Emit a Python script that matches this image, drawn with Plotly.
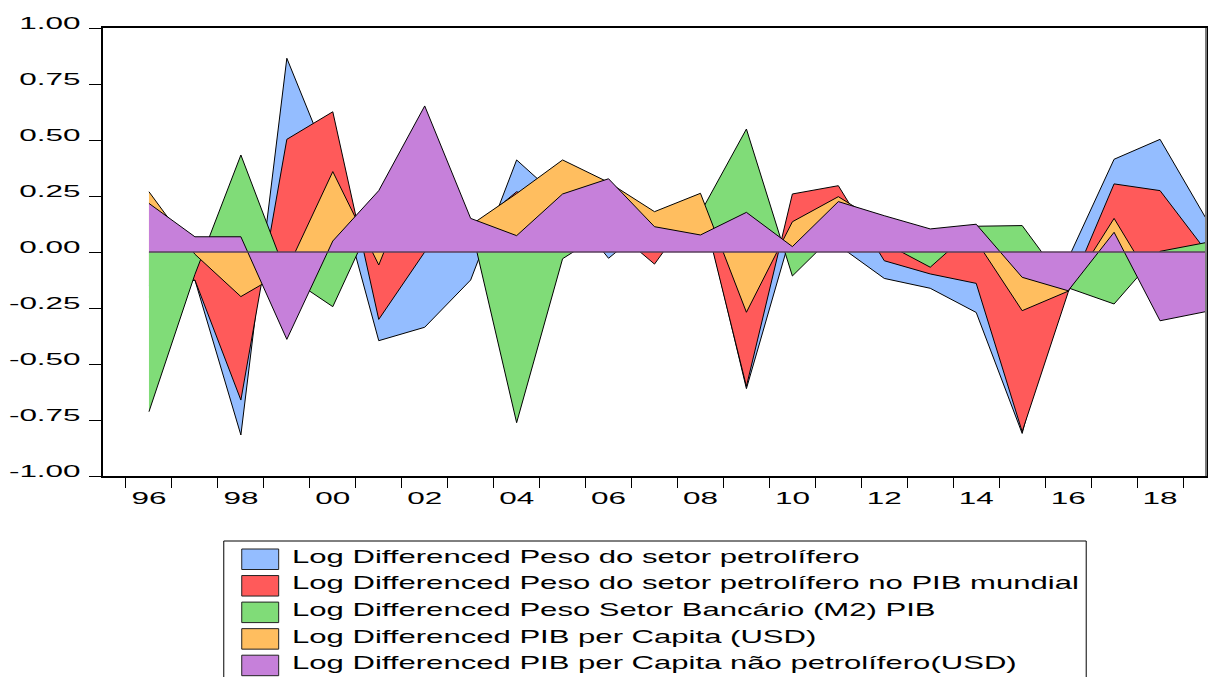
import plotly.graph_objects as go

# ---------------- data ----------------
years = list(range(1996, 2020))

peso_setor_petrolifero = [-0.20, -0.125, -0.817, 0.865, 0.36, -0.396, -0.336, -0.125, 0.411, 0.226,
                          -0.028, 0.14, 0.25, -0.61, 0.10, 0.03, -0.118, -0.162, -0.27, -0.81,
                          -0.03, 0.414, 0.503, 0.15]
peso_petrolifero_pib_mundial = [-0.15, -0.125, -0.661, 0.503, 0.626, -0.301, 0.0, 0.10, 0.269, 0.20,
                                0.12, -0.054, 0.23, -0.60, 0.259, 0.296, -0.039, -0.098, -0.14, -0.802,
                                -0.18, 0.304, 0.274, 0.005]
peso_setor_bancario = [-0.713, -0.10, 0.433, -0.106, -0.244, 0.20, 0.10, 0.12, -0.762, -0.03,
                       0.10, 0.05, 0.175, 0.549, -0.107, 0.095, 0.041, -0.068, 0.115, 0.118,
                       -0.16, -0.232, 0.003, 0.042]
pib_per_capita = [0.269, -0.01, -0.199, -0.08, 0.359, -0.058, 0.45, 0.12, 0.261, 0.411,
                  0.311, 0.18, 0.262, -0.269, 0.135, 0.247, 0.12, 0.06, 0.05, -0.262,
                  -0.175, 0.15, -0.19, -0.10]
pib_per_capita_nao_petrolifero = [0.217, 0.068, 0.068, -0.39, 0.049, 0.274, 0.652, 0.150, 0.073, 0.259,
                                  0.327, 0.113, 0.076, 0.177, 0.024, 0.225, 0.162, 0.103, 0.124, -0.113,
                                  -0.173, 0.088, -0.307, -0.266]

series_names = [
    "Log Differenced Peso do setor petrolífero",
    "Log Differenced Peso do setor petrolífero no PIB mundial",
    "Log Differenced Peso Setor Bancário (M2) PIB",
    "Log Differenced PIB per Capita (USD)",
    "Log Differenced PIB per Capita não petrolífero(USD)",
]
series_values = [peso_setor_petrolifero, peso_petrolifero_pib_mundial, peso_setor_bancario,
                 pib_per_capita, pib_per_capita_nao_petrolifero]
series_colors = ["#94BDFF", "#FF5A5A", "#80DC78", "#FFBE5F", "#C680DA"]

y_ticks = [-1.0, -0.75, -0.5, -0.25, 0.0, 0.25, 0.5, 0.75, 1.0]
x_label_years = list(range(1996, 2019, 2))
x_tick_labels = [f"{y % 100:02d}" for y in x_label_years]

# ---------------- layout geometry (pixels) ----------------
W, H = 1209, 677
L, R, T, B = 103, 1208, 28, 476


def px_x(p):
    return (p - L) / (R - L)


def px_y(p):
    return (B - p) / (B - T)


FONT = "Arial, Liberation Sans, sans-serif"

fig = go.Figure()
for name, vals, col in zip(series_names, series_values, series_colors):
    fig.add_trace(go.Scatter(
        x=years, y=vals, name=name, mode="lines",
        fill="tozeroy", fillcolor=col,
        line=dict(color="black", width=1),
        showlegend=False,
    ))

shapes = []
# zero baseline of the filled areas
shapes.append(dict(type="line", xref="x", yref="y", x0=years[0], x1=years[-1], y0=0, y1=0,
                   line=dict(color="#5a3f5c", width=1.5), layer="above"))
# grey right border of the frame
shapes.append(dict(type="line", xref="paper", yref="paper", x0=1, x1=1, y0=0, y1=1,
                   line=dict(color="#7a7a7a", width=2), layer="above"))

# legend (box, swatches, labels)
shapes.append(dict(type="rect", xref="paper", yref="paper",
                   x0=px_x(224), x1=px_x(1088), y0=px_y(541), y1=px_y(720),
                   line=dict(color="black", width=1), fillcolor="white", layer="above"))
annotations = []
for i, (name, col) in enumerate(zip(series_names, series_colors)):
    top = 549 + i * 26.55
    shapes.append(dict(type="rect", xref="paper", yref="paper",
                       x0=px_x(242), x1=px_x(279), y0=px_y(top), y1=px_y(top + 20.5),
                       line=dict(color="#222222", width=1), fillcolor=col, layer="above"))
    annotations.append(dict(xref="paper", yref="paper", x=px_x(290.5), y=px_y(556.2 + i * 26.6),
                            xanchor="left", yanchor="middle", align="left", showarrow=False,
                            text=name, font=dict(family=FONT, size=19, color="black")))

fig.update_layout(
    width=W, height=H,
    margin=dict(l=L, r=W - R, t=T, b=H - B, pad=0),
    paper_bgcolor="white", plot_bgcolor="white",
    showlegend=False, hovermode=False,
    shapes=shapes, annotations=annotations,
    font=dict(family=FONT, size=17, color="black"),
)

fig.update_xaxes(
    range=[1995, 2019], showgrid=False, zeroline=False,
    showline=True, mirror=True, linecolor="black", linewidth=2,
    tickmode="array", tickvals=x_label_years, ticktext=x_tick_labels,
    ticks="outside", ticklen=0, tickcolor="rgba(0,0,0,0)",
    ticklabelstandoff=6,
    tickfont=dict(family=FONT, size=17, color="black"),
    minor=dict(tickmode="array", tickvals=[y - 0.5 for y in years],
               ticks="outside", ticklen=10, tickcolor="black", tickwidth=1, showgrid=False),
)
fig.update_yaxes(
    range=[-1, 1], showgrid=False, zeroline=False,
    showline=True, mirror=True, linecolor="black", linewidth=2,
    tickmode="array", tickvals=y_ticks, ticktext=[f"{v:.2f}" for v in y_ticks],
    ticks="outside", ticklen=12, tickcolor="black", tickwidth=1,
    ticklabelstandoff=5, ticklabelshift=-5,
    tickfont=dict(family=FONT, size=17, color="black"),
)

# The reference (an EViews export) shows horizontally widened lettering;
# reproduce it by stretching the real SVG text glyphs, and drop the page margin.
post_js = """
document.body.style.margin = '0';
var gd = document.getElementById('{plot_id}');
function stretch(sel, k) {
  gd.querySelectorAll(sel).forEach(function(t) {
    var w = t.getComputedTextLength();
    if (w > 0) {
      t.setAttribute('textLength', (w * k).toFixed(2));
      t.setAttribute('lengthAdjust', 'spacingAndGlyphs');
    }
  });
}
stretch('.ytick text', 1.85);
stretch('.xtick text', 1.85);
stretch('.annotation-text', 1.635);
"""

fig.write_html("out.html", post_script=post_js, config={"displayModeBar": False, "staticPlot": True})
